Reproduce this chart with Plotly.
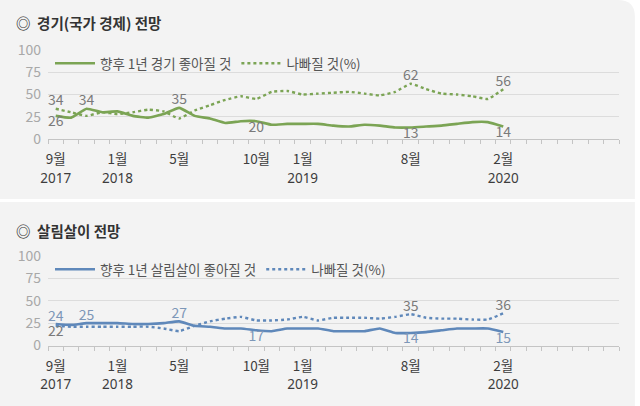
import plotly.graph_objects as go

# ---------------- data ----------------
months = ["2017-09", "2017-10", "2017-11", "2017-12", "2018-01", "2018-02", "2018-03", "2018-04",
          "2018-05", "2018-06", "2018-07", "2018-08", "2018-09", "2018-10", "2018-11", "2018-12",
          "2019-01", "2019-02", "2019-03", "2019-04", "2019-05", "2019-06", "2019-07", "2019-08",
          "2019-09", "2019-10", "2019-11", "2019-12", "2020-01", "2020-02"]

econ_better = [26, 24, 34, 30, 31, 26, 24, 28, 35, 26, 23, 18, 20, 20, 16, 17,
               17, 17, 15, 14, 16, 15, 13, 13, 14, 15, 17, 19, 19, 14]
econ_worse = [34, 30, 26, 30, 28, 30, 33, 31, 23, 32, 38, 44, 48, 45, 53, 54,
              50, 51, 52, 53, 51, 49, 53, 62, 56, 51, 50, 48, 45, 56]

life_better = [24, 23, 25, 25, 25, 24, 24, 25, 27, 22, 21, 19, 19, 17, 16, 19,
               19, 19, 16, 16, 16, 19, 14, 14, 15, 17, 19, 19, 19, 15]
life_worse = [22, 21, 21, 21, 21, 21, 21, 19, 16, 22, 27, 30, 32, 28, 28, 29,
              32, 28, 31, 31, 31, 30, 32, 35, 31, 30, 30, 29, 29, 36]

# labelled points: month -> position
econ_better_lbl = {"2017-09": "bottom center", "2017-11": "top center", "2018-05": "top center",
                   "2018-10": "bottom center", "2019-08": "bottom center", "2020-02": "bottom center"}
econ_worse_lbl = {"2017-09": "top center", "2019-08": "top center", "2020-02": "top center"}
life_better_lbl = {"2017-09": "top center", "2017-11": "top center", "2018-05": "top center",
                   "2018-10": "bottom center", "2019-08": "bottom center", "2020-02": "bottom center"}
life_worse_lbl = {"2017-09": "bottom center", "2019-08": "top center", "2020-02": "top center"}

month_tick_months = ["2017-09", "2018-01", "2018-05", "2018-10", "2019-01", "2019-08", "2020-02"]
month_tick_text = ["9월", "1월", "5월", "10월", "1월", "8월", "2월"]
year_tick_months = ["2017-09", "2018-01", "2019-01", "2020-02"]
year_tick_text = ["2017", "2018", "2019", "2020"]
y_ticks = [0, 25, 50, 75, 100]

titles = ["◎  경기(국가 경제) 전망", "◎  살림살이 전망"]
names_top = ["향후 1년 경기 좋아질 것", "나빠질 것(%)"]
names_bot = ["향후 1년 살림살이 좋아질 것", "나빠질 것(%)"]

# ---------------- styling ----------------
FONT = "Noto Sans CJK KR"
GREEN = "#7ba454"
BLUE = "#5f88ba"
LBL_GRAY = "#7a7a7a"
LBL_BLUE = "#7d97b8"
W, H = 640, 406

x = list(range(len(months)))
month_vals = [months.index(m) for m in month_tick_months]
year_vals = [months.index(m) for m in year_tick_months]


def label_arrays(values, lbl):
    text = [str(v) if m in lbl else "" for m, v in zip(months, values)]
    pos = [lbl.get(m, "top center") for m in months]
    return text, pos


fig = go.Figure()


def add_series(values, lbl, name, color, dash, xa, ya, legend, lblcolor):
    text, pos = label_arrays(values, lbl)
    fig.add_trace(go.Scatter(
        x=x, y=values, mode="lines+text", name=name,
        line=dict(color=color, width=2.6 if dash == "solid" else 2.4, dash=dash, shape="spline", smoothing=0.4),
        text=text, textposition=pos,
        textfont=dict(family=FONT, size=14, color=lblcolor),
        xaxis=xa, yaxis=ya, legend=legend, cliponaxis=False,
    ))


add_series(econ_better, econ_better_lbl, names_top[0], GREEN, "solid", "x", "y", "legend", LBL_GRAY)
add_series(econ_worse, econ_worse_lbl, names_top[1], GREEN, "dot", "x", "y", "legend", LBL_GRAY)
add_series(life_better, life_better_lbl, names_bot[0], BLUE, "solid", "x2", "y2", "legend2", LBL_BLUE)
add_series(life_worse, life_worse_lbl, names_bot[1], BLUE, "dot", "x2", "y2", "legend2", LBL_GRAY)

x_dom = [48 / W, 619 / W]
top_dom = [1 - 139 / H, 1 - 50 / H]
bot_dom = [1 - 345.5 / H, 1 - 256 / H]

xaxis_month = dict(
    range=[-0.5, 36.5], domain=x_dom,
    tickmode="array", tickvals=month_vals, ticktext=month_tick_text, ticks="",
    tickfont=dict(family=FONT, size=13.5, color="#3d3d3d"),
    showgrid=False, zeroline=False, showline=True, linecolor="#c4c4c4", linewidth=1.2,
    minor=dict(ticks="outside", ticklen=4, tickcolor="#c4c4c4", tickwidth=1,
               tickmode="linear", tick0=-0.5, dtick=1, showgrid=False),
    ticklabelstandoff=8, automargin=False, fixedrange=True,
)
xaxis_year = dict(
    range=[-0.5, 36.5], domain=x_dom, side="bottom",
    tickmode="array", tickvals=year_vals, ticktext=year_tick_text, ticks="",
    tickfont=dict(family="Noto Sans", size=13.5, color="#3d3d3d"),
    showgrid=False, zeroline=False, showline=False,
    ticklabelstandoff=29, automargin=False, fixedrange=True,
)
yaxis_common = dict(
    range=[0, 100], tickmode="array", tickvals=y_ticks,
    tickfont=dict(family=FONT, size=14, color="#a8a8a8"),
    showgrid=True, gridcolor="#dcdcdc", gridwidth=1, zeroline=False, showline=False,
    ticks="", ticklabelstandoff=6, automargin=False, fixedrange=True,
)

fig.update_layout(
    width=W, height=H,
    margin=dict(l=0, r=0, t=0, b=0, pad=0, autoexpand=False),
    paper_bgcolor="white", plot_bgcolor="rgba(0,0,0,0)",
    font=dict(family=FONT, color="#444"),
    showlegend=True,
    xaxis=dict(**xaxis_month, anchor="y"),
    yaxis=dict(**yaxis_common, domain=top_dom, anchor="x"),
    xaxis2=dict(**xaxis_month, anchor="y2"),
    yaxis2=dict(**yaxis_common, domain=bot_dom, anchor="x2"),
    xaxis3=dict(**xaxis_year, anchor="y", overlaying="x"),
    xaxis4=dict(**xaxis_year, anchor="y2", overlaying="x2"),
    legend=dict(orientation="h", x=50 / W, y=1 - 48 / H, xanchor="left", yanchor="top",
                bgcolor="rgba(0,0,0,0)", font=dict(family=FONT, size=13.5, color="#555"),
                itemwidth=40, tracegroupgap=0),
    legend2=dict(orientation="h", x=50 / W, y=1 - 254 / H, xanchor="left", yanchor="top",
                 bgcolor="rgba(0,0,0,0)", font=dict(family=FONT, size=13.5, color="#555"),
                 itemwidth=40, tracegroupgap=0),
    shapes=[
        dict(type="path", xref="paper", yref="paper", layer="below",
             path="M 0 0.5099 L 0 1 L 0.965 1 Q 0.992 1 0.992 0.96 L 0.992 0.5099 Z",
             fillcolor="#f3f3f3", line=dict(width=0)),
        dict(type="rect", xref="paper", yref="paper", layer="below",
             x0=0, x1=0.992, y0=0, y1=0.5025, fillcolor="#f3f3f3", line=dict(width=0)),
    ],
    annotations=[
        dict(text="<b>" + titles[0] + "</b>", xref="paper", yref="paper", x=14 / W, y=1 - 22 / H,
             xanchor="left", yanchor="middle", showarrow=False,
             font=dict(family=FONT, size=14.5, color="#333")),
        dict(text="<b>" + titles[1] + "</b>", xref="paper", yref="paper", x=14 / W, y=1 - 230 / H,
             xanchor="left", yanchor="middle", showarrow=False,
             font=dict(family=FONT, size=14.5, color="#333")),
    ],
)

# invisible helper traces so the year axes are drawn
fig.add_trace(go.Scatter(x=[], y=[], xaxis="x3", yaxis="y", showlegend=False, hoverinfo="skip"))
fig.add_trace(go.Scatter(x=[], y=[], xaxis="x4", yaxis="y2", showlegend=False, hoverinfo="skip"))

fig.write_html("out.html", config={"displayModeBar": False},
               post_script="document.body.style.margin='0';")
